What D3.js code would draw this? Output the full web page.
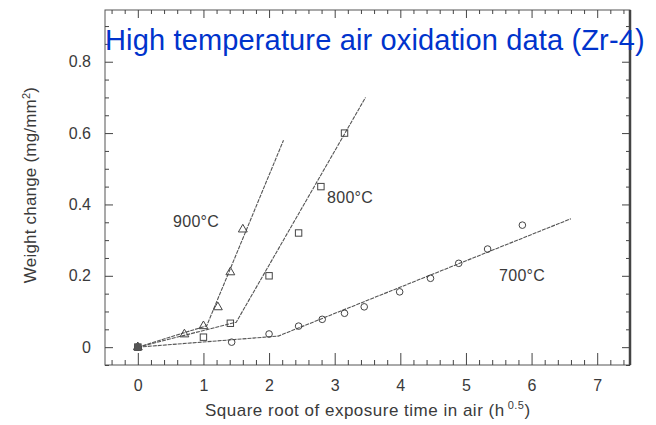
<!DOCTYPE html>
<html>
<head>
<meta charset="utf-8">
<script src="https://cdn.jsdelivr.net/npm/d3@7"></script>
<style>
  body { margin: 0; background: #fff; }
  svg { display: block; font-family: "Liberation Sans", Arial, sans-serif; }
  .axis path { display: none; }
  .axis line { stroke: #444; stroke-width: 1; }
  .axis text { fill: #3a3a3a; font-size: 16px; font-family: "Liberation Sans", Arial, sans-serif; }
</style>
</head>
<body>
<div id="chart"></div>
<script>
// Data (x = sqrt of hours, y = mg/mm^2)
const x900 = [0, 0.71, 1.0, 1.22, 1.41, 1.6];
const y900 = [0, 0.036, 0.059, 0.112, 0.21, 0.33];
const x800 = [0, 1.0, 1.41, 2.0, 2.45, 2.79, 3.15];
const y800 = [0, 0.028, 0.067, 0.20, 0.32, 0.45, 0.60];
const x700 = [0, 1.43, 2.0, 2.45, 2.81, 3.15, 3.45, 3.99, 4.46, 4.89, 5.33, 5.86];
const y700 = [0, 0.014, 0.037, 0.059, 0.078, 0.095, 0.113, 0.155, 0.193, 0.235, 0.275, 0.342];

// fitted lines (two segments each)
const fitX900 = [0, 1.05, 2.22];
const fitY900 = [0, 0.06, 0.58];
const fitX800 = [0, 1.5, 3.47];
const fitY800 = [0, 0.07, 0.70];
const fitX700 = [0, 2.14, 6.6];
const fitY700 = [0, 0.031, 0.36];

const xTicks = [0, 1, 2, 3, 4, 5, 6, 7];
const yTicks = [0, 0.2, 0.4, 0.6, 0.8];

const width = 656, height = 425;
const plotLeft = 105, plotRight = 630, plotTop = 10, plotBottom = 365;

const svg = d3.select("#chart").append("svg")
    .attr("width", width)
    .attr("height", height);

const x = d3.scaleLinear().domain([-0.5, 7.5]).range([plotLeft, plotRight]);
const y = d3.scaleLinear().domain([-0.05, 0.945]).range([plotBottom, plotTop]);

const xMinor = d3.range(-0.4, 7.5, 0.2).filter(v => Math.abs(v - Math.round(v)) > 0.01);
const yMinor = d3.range(-0.05, 0.95, 0.05).filter(v => Math.abs(v / 0.2 - Math.round(v / 0.2)) > 0.01);

// frame
svg.append("rect")
    .attr("x", plotLeft).attr("y", plotTop)
    .attr("width", plotRight - plotLeft).attr("height", plotBottom - plotTop)
    .attr("fill", "none").attr("stroke", "#555").attr("stroke-width", 1);
svg.append("line")
    .attr("x1", plotRight).attr("x2", plotRight).attr("y1", plotTop).attr("y2", plotBottom)
    .attr("stroke", "#444").attr("stroke-width", 2.5);

// bottom axis
svg.append("g").attr("class", "axis")
    .attr("transform", `translate(0,${plotBottom})`)
    .call(d3.axisBottom(x).tickValues(xTicks).tickSize(-12).tickPadding(15).tickFormat(d3.format("d")));
svg.append("g").attr("class", "axis")
    .attr("transform", `translate(0,${plotBottom})`)
    .call(d3.axisBottom(x).tickValues(xMinor).tickSize(-5).tickFormat(""));

// top axis
svg.append("g").attr("class", "axis")
    .attr("transform", `translate(0,${plotTop})`)
    .call(d3.axisTop(x).tickValues(xTicks).tickSize(-8).tickFormat(""));
svg.append("g").attr("class", "axis")
    .attr("transform", `translate(0,${plotTop})`)
    .call(d3.axisTop(x).tickValues(xMinor).tickSize(-4).tickFormat(""));

// left axis
svg.append("g").attr("class", "axis")
    .attr("transform", `translate(${plotLeft},0)`)
    .call(d3.axisLeft(y).tickValues(yTicks).tickSize(-8).tickPadding(14)
        .tickFormat(d => d === 0 ? "0" : d3.format(".1f")(d)));
svg.append("g").attr("class", "axis")
    .attr("transform", `translate(${plotLeft},0)`)
    .call(d3.axisLeft(y).tickValues(yMinor).tickSize(-4).tickFormat(""));

// right axis
svg.append("g").attr("class", "axis")
    .attr("transform", `translate(${plotRight},0)`)
    .call(d3.axisRight(y).tickValues(yTicks).tickSize(-8).tickFormat(""));
svg.append("g").attr("class", "axis")
    .attr("transform", `translate(${plotRight},0)`)
    .call(d3.axisRight(y).tickValues(yMinor).tickSize(-4).tickFormat(""));

// fit lines
const line = d3.line().x(d => x(d[0])).y(d => y(d[1]));
[[fitX900, fitY900], [fitX800, fitY800], [fitX700, fitY700]].forEach(([fx, fy]) => {
    svg.append("path")
        .datum(fx.map((v, i) => [v, fy[i]]))
        .attr("d", line)
        .attr("fill", "none")
        .attr("stroke", "#555")
        .attr("stroke-width", 1.1)
        .attr("stroke-dasharray", "4,1");
});

// markers
const markerStyle = sel => sel.attr("fill", "none").attr("stroke", "#444").attr("stroke-width", 1);

svg.append("g").selectAll("circle")
    .data(x700.map((v, i) => [v, y700[i]]))
    .join("circle")
    .attr("cx", d => x(d[0])).attr("cy", d => y(d[1])).attr("r", 3.3)
    .call(markerStyle);

svg.append("g").selectAll("rect")
    .data(x800.map((v, i) => [v, y800[i]]))
    .join("rect")
    .attr("x", d => x(d[0]) - 3.2).attr("y", d => y(d[1]) - 3.2)
    .attr("width", 6.4).attr("height", 6.4)
    .call(markerStyle);

const tri = d3.symbol().type(d3.symbolTriangle).size(34);
svg.append("g").selectAll("path")
    .data(x900.map((v, i) => [v, y900[i]]))
    .join("path")
    .attr("d", tri)
    .attr("transform", d => `translate(${x(d[0])},${y(d[1])})`)
    .call(markerStyle);

// origin looks filled in the scan
svg.append("rect")
    .attr("x", x(0) - 3.5).attr("y", y(0) - 3.5)
    .attr("width", 7).attr("height", 7)
    .attr("fill", "#555");

// series labels
const labels = [
    { text: "900°C", x: 173, y: 227 },
    { text: "800°C", x: 327, y: 203 },
    { text: "700°C", x: 499, y: 281 }
];
svg.append("g").selectAll("text")
    .data(labels)
    .join("text")
    .attr("x", d => d.x).attr("y", d => d.y)
    .attr("fill", "#3a3a3a")
    .attr("font-size", 16)
    .attr("letter-spacing", 0.3)
    .text(d => d.text);

// axis titles
const xt = svg.append("text")
    .attr("x", 205).attr("y", 416)
    .attr("fill", "#3a3a3a")
    .attr("font-size", 17)
    .attr("letter-spacing", 0.5);
xt.append("tspan").text("Square root of exposure time in air (h");
xt.append("tspan").attr("dy", -7).attr("dx", 3).attr("font-size", 11).text("0.5");
xt.append("tspan").attr("dy", 7).text(")");

const yt = svg.append("text")
    .attr("transform", "translate(36,185) rotate(-90)")
    .attr("text-anchor", "middle")
    .attr("fill", "#3a3a3a")
    .attr("font-size", 17)
    .attr("letter-spacing", 0.2);
yt.append("tspan").text("Weight change (mg/mm");
yt.append("tspan").attr("dy", -6).attr("font-size", 11).text("2");
yt.append("tspan").attr("dy", 6).text(")");

// title
svg.append("text")
    .attr("x", 105).attr("y", 50)
    .attr("fill", "#0033cc")
    .attr("font-size", 29)
    .attr("letter-spacing", 0.15)
    .text("High temperature air oxidation data (Zr-4)");
</script>
</body>
</html>
